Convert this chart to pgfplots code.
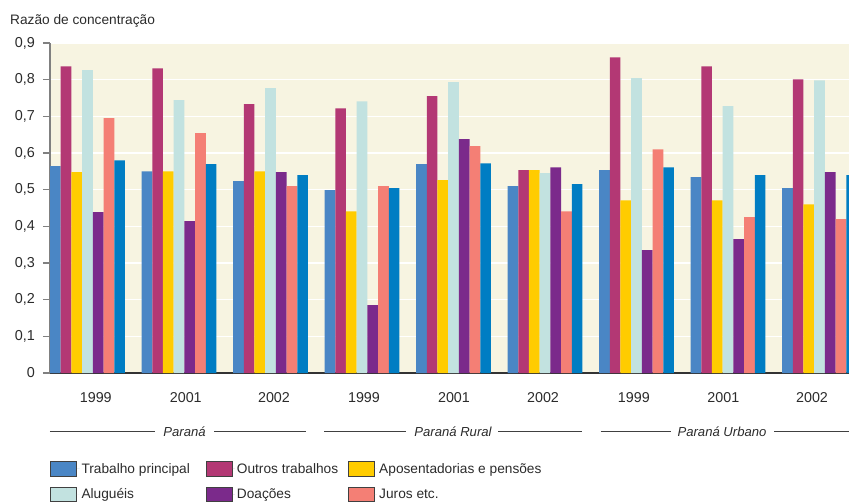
\documentclass[border=0pt]{standalone}
\usepackage{pgfplots}
\usepackage{pgfplotstable}
\pgfplotsset{compat=1.18}
\usepackage{fontspec}
\setmainfont{Liberation Sans}
\definecolor{cTP}{HTML}{4A86C5}
\definecolor{cOT}{HTML}{B33874}
\definecolor{cAP}{HTML}{FFCC00}
\definecolor{cAL}{HTML}{C2E2E0}
\definecolor{cDO}{HTML}{7B2A8B}
\definecolor{cJU}{HTML}{F47F75}
\definecolor{cTT}{HTML}{007DC3}
\definecolor{bgc}{HTML}{F7F4E1}
\definecolor{txt}{HTML}{2B2B2B}

\pgfplotstableread{
x     tp    ot    ap    al    do    ju    tt
87.5  0.564 0.836 0.548 0.826 0.439 0.695 0.580
179   0.550 0.831 0.550 0.744 0.414 0.654 0.570
270.5 0.523 0.733 0.550 0.777 0.548 0.510 0.540
362   0.499 0.722 0.441 0.741 0.185 0.510 0.504
453.5 0.570 0.755 0.526 0.793 0.638 0.619 0.572
545   0.510 0.553 0.553 0.545 0.561 0.441 0.515
636.5 0.553 0.861 0.471 0.804 0.335 0.610 0.561
728   0.534 0.836 0.471 0.728 0.365 0.425 0.540
819.5 0.504 0.801 0.460 0.798 0.548 0.420 0.540
}\data

\begin{document}
\begin{tikzpicture}[font=\fontsize{13.7}{16}\selectfont, text=txt]
\begin{axis}[
  at={(0pt,0pt)}, anchor=south west,
  scale only axis, width=799pt, height=330pt,
  xmin=50, xmax=849, ymin=0, ymax=0.9,
  ybar=0pt, bar width=10.7pt,
  axis background/.style={fill=bgc},
  ymajorgrids, major grid style={white, line width=1.3pt},
  axis x line*=bottom, axis y line*=left,
  x axis line style={draw=black!80, line width=1.2pt},
  y axis line style={draw=black!50, line width=2pt},
  tick align=outside, major tick length=7pt,
  ytick={0,0.1,0.2,0.3,0.4,0.5,0.6,0.7,0.8,0.9},
  yticklabels={0,{0,1},{0,2},{0,3},{0,4},{0,5},{0,6},{0,7},{0,8},{0,9}},
  ytick style={draw=black!50, line width=1.5pt},
  yticklabel style={anchor=east, inner sep=0pt, xshift=-8pt, font=\fontsize{14.4}{16}\selectfont, text=txt},
  xtick={95.8,185.8,274,364,454,543,633.8,723.3,812},
  xticklabels={1999,2001,2002,1999,2001,2002,1999,2001,2002},
  xtick style={draw=none},
  xticklabel style={anchor=base, inner sep=0pt, yshift=-22.7pt, font=\fontsize{14.3}{16}\selectfont, text=txt},
  legend image code/.code={\draw[#1, draw=black!75, line width=0.7pt] (0pt,-7.2pt) rectangle (26pt,7.2pt);
    \path (26pt,0pt) -- (29pt,0pt);},
  legend style={at={(0,-0.2667)}, anchor=north west, draw=none, fill=none, inner sep=0pt,
    legend columns=3, font=\fontsize{13.7}{16}\selectfont, text=txt,
    /tikz/every even column/.append style={column sep=0pt},
    row sep=10pt},
  legend cell align=left,
]
\addplot[fill=cTP, draw=none] table[x=x, y=tp]{\data};
\addlegendentry{\makebox[122pt][l]{Trabalho principal}}
\addplot[fill=cOT, draw=none] table[x=x, y=ot]{\data};
\addlegendentry{\makebox[109pt][l]{Outros trabalhos}}
\addplot[fill=cAP, draw=none] table[x=x, y=ap]{\data};
\addlegendentry{Aposentadorias e pensões}
\addplot[fill=cAL, draw=none] table[x=x, y=al]{\data};
\addlegendentry{Aluguéis}
\addplot[fill=cDO, draw=none] table[x=x, y=do]{\data};
\addlegendentry{Doações}
\addplot[fill=cJU, draw=none] table[x=x, y=ju]{\data};
\addlegendentry{Juros etc.}
\addplot[fill=cTT, draw=none] table[x=x, y=tt]{\data};
\end{axis}
\node[anchor=base west, inner sep=0pt] at (-40pt,348pt) {Razão de concentração};
\begin{scope}[black!75, line width=0.8pt]
\draw (0pt,-58pt) -- (105pt,-58pt);
\draw (164pt,-58pt) -- (255.7pt,-58pt);
\draw (274.3pt,-58pt) -- (355.7pt,-58pt);
\draw (448pt,-58pt) -- (531.7pt,-58pt);
\draw (550.7pt,-58pt) -- (620.7pt,-58pt);
\draw (724pt,-58pt) -- (805pt,-58pt);
\end{scope}
\begin{scope}[font=\fontsize{13.1}{15}\selectfont\itshape]
\node[anchor=base, inner sep=0pt] at (134.5pt,-63.5pt) {Paraná};
\node[anchor=base, inner sep=0pt] at (403pt,-63.5pt) {Paraná Rural};
\node[anchor=base, inner sep=0pt] at (672pt,-63.5pt) {Paraná Urbano};
\end{scope}
\pgfresetboundingbox
\path[use as bounding box] (-50pt,-128pt) rectangle (799pt,373pt);
\end{tikzpicture}
\end{document}
